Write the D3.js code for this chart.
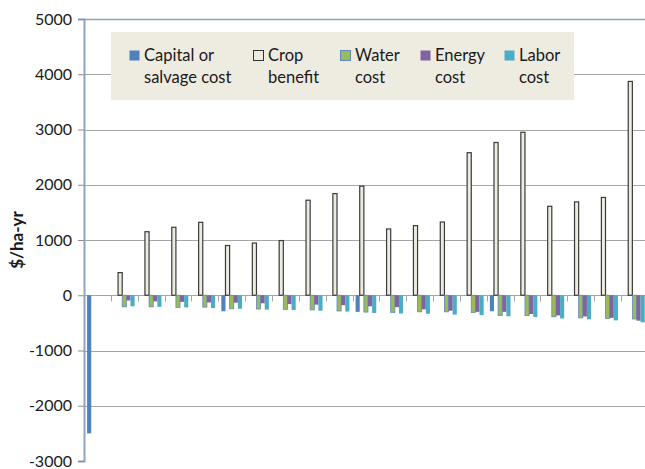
<!DOCTYPE html>
<html>
<head>
<meta charset="utf-8">
<script src="https://cdn.jsdelivr.net/npm/d3@7"></script>
<style>
  body { margin: 0; background: #fff; overflow: hidden; }
  svg { display: block; font-family: Lato, "Open Sans", sans-serif; }
</style>
</head>
<body>
<div id="chart"></div>
<script>
// groups (years 0..20, no labels drawn on the x axis)
var groups = d3.range(21).map(String);

var seriesNames = ["Capital or salvage cost", "Crop benefit", "Water cost", "Energy cost", "Labor cost"];

var capital = [-2500, 0, 0, 0, 0, -290, 0, 0, 0, 0, -300, 0, 0, 0, 0, -290, 0, 0, 0, 0, 0];
var crop    = [0, 410, 1150, 1230, 1320, 900, 945, 990, 1720, 1840, 1975, 1200, 1260, 1325, 2580, 2765, 2950, 1610, 1690, 1770, 3870];
var water   = [0, -210, -210, -220, -215, -245, -250, -255, -265, -285, -305, -310, -300, -300, -310, -365, -370, -390, -410, -420, -430];
var energy  = [0, -95, -110, -120, -130, -135, -145, -160, -170, -180, -200, -215, -255, -280, -300, -300, -340, -365, -385, -410, -460];
var labor   = [0, -200, -210, -220, -230, -245, -260, -265, -280, -295, -320, -330, -335, -350, -360, -380, -395, -420, -435, -455, -490];

var yTicks = [-3000, -2000, -1000, 0, 1000, 2000, 3000, 4000, 5000];

var seriesValues = [capital, crop, water, energy, labor];
var fills   = ["#4F81BD", "#EEECE1", "#9BBB59", "#8064A2", "#4BACC6"];
var strokes = ["none", "#3a3a3a", "#5F88BE", "none", "none"];

// legend text, two lines each
var legendLines = [["Capital or", "salvage cost"], ["Crop", "benefit"], ["Water", "cost"], ["Energy", "cost"], ["Labor", "cost"]];
var legendX = [129, 253, 340, 420, 504];

var W = 645, H = 469;
var margin = {left: 84, top: 19};
var plotRight = 84 + 21 * 26.85;
var plotBottom = 461;

var svg = d3.select("#chart").append("svg")
    .attr("width", W)
    .attr("height", H);

var x0 = d3.scaleBand()
    .domain(groups)
    .range([margin.left, plotRight])
    .paddingInner(0).paddingOuter(0);

// excel style gap width 150%
var x1 = d3.scaleBand()
    .domain(d3.range(5))
    .range([0, x0.bandwidth()])
    .paddingInner(0)
    .paddingOuter(0.75);

var y = d3.scaleLinear()
    .domain([-3000, 5000])
    .range([plotBottom, margin.top]);

// gridlines
svg.append("g")
  .selectAll("line")
  .data(yTicks.filter(function(t){ return t != 0 && t != -3000; }))
  .enter().append("line")
    .attr("x1", margin.left)
    .attr("x2", plotRight)
    .attr("y1", function(d){ return Math.round(y(d)) + 0.5; })
    .attr("y2", function(d){ return Math.round(y(d)) + 0.5; })
    .attr("stroke", function(d){ return d == 5000 ? "#8FA3C0" : "#A6A6A6"; })
    .attr("stroke-width", function(d){ return d == 5000 ? 1.5 : 1.2; });

// Y axis
var yAxis = svg.append("g")
    .attr("transform", "translate(" + margin.left + ",0)")
    .call(d3.axisLeft(y).tickValues(yTicks).tickSize(6).tickPadding(6)
      .tickFormat(function(d){ return String(d); }));
yAxis.select(".domain").attr("stroke", "#8FA3C0").attr("stroke-width", 2);
yAxis.selectAll(".tick line").attr("stroke", "#8C8C8C");
yAxis.selectAll("text")
    .attr("font-size", 16)
    .attr("font-family", "Lato, sans-serif")
    .attr("fill", "#1a1a1a");

// X axis at zero
var xAxis = svg.append("g")
    .attr("transform", "translate(0," + (Math.round(y(0)) + 0.5) + ")");
xAxis.append("line")
    .attr("x1", margin.left).attr("x2", plotRight)
    .attr("stroke", "#A6A6A6").attr("stroke-width", 1.2);
xAxis.selectAll(".tk")
  .data(groups.slice(1))
  .enter().append("line")
    .attr("class", "tk")
    .attr("x1", function(d){ return Math.round(x0(d)) + 0.5; })
    .attr("x2", function(d){ return Math.round(x0(d)) + 0.5; })
    .attr("y1", 0).attr("y2", 6)
    .attr("stroke", "#A6A6A6");

// Bars
var barData = [];
groups.forEach(function(g, gi){
  seriesValues.forEach(function(vals, si){
    if (vals[gi] != 0) barData.push({group: g, s: si, v: vals[gi]});
  });
});

svg.append("g")
  .selectAll("rect")
  .data(barData)
  .enter().append("rect")
    .attr("x", function(d){ return x0(d.group) + x1(d.s); })
    .attr("y", function(d){ return y(Math.max(0, d.v)); })
    .attr("width", x1.bandwidth())
    .attr("height", function(d){ return Math.abs(y(d.v) - y(0)); })
    .attr("fill", function(d){ return fills[d.s]; })
    .attr("stroke", function(d){ return strokes[d.s]; })
    .attr("stroke-width", function(d){ return d.s == 1 ? 1.2 : 0.8; });

// Legend
var legend = svg.append("g");
legend.append("rect")
    .attr("x", 111).attr("y", 32)
    .attr("width", 463).attr("height", 68)
    .attr("fill", "#EEECE1");

legendLines.forEach(function(lines, i){
  legend.append("rect")
    .attr("x", legendX[i] + 0.5).attr("y", 50.5)
    .attr("width", 10).attr("height", 10)
    .attr("fill", fills[i])
    .attr("stroke", i == 1 ? "#333" : (i == 2 ? "#5F88BE" : "none"))
    .attr("stroke-width", 1);
  lines.forEach(function(t, li){
    legend.append("text")
      .attr("x", legendX[i] + 15)
      .attr("y", 61 + li * 22)
      .attr("font-size", 16.5)
      .attr("fill", "#1a1a1a")
      .text(t);
  });
});

// Y axis title
svg.append("text")
    .attr("transform", "translate(23,240) rotate(-90)")
    .attr("text-anchor", "middle")
    .attr("font-size", 17)
    .attr("font-weight", "bold")
    .attr("fill", "#1a1a1a")
    .text("$/ha-yr");
</script>
</body>
</html>
